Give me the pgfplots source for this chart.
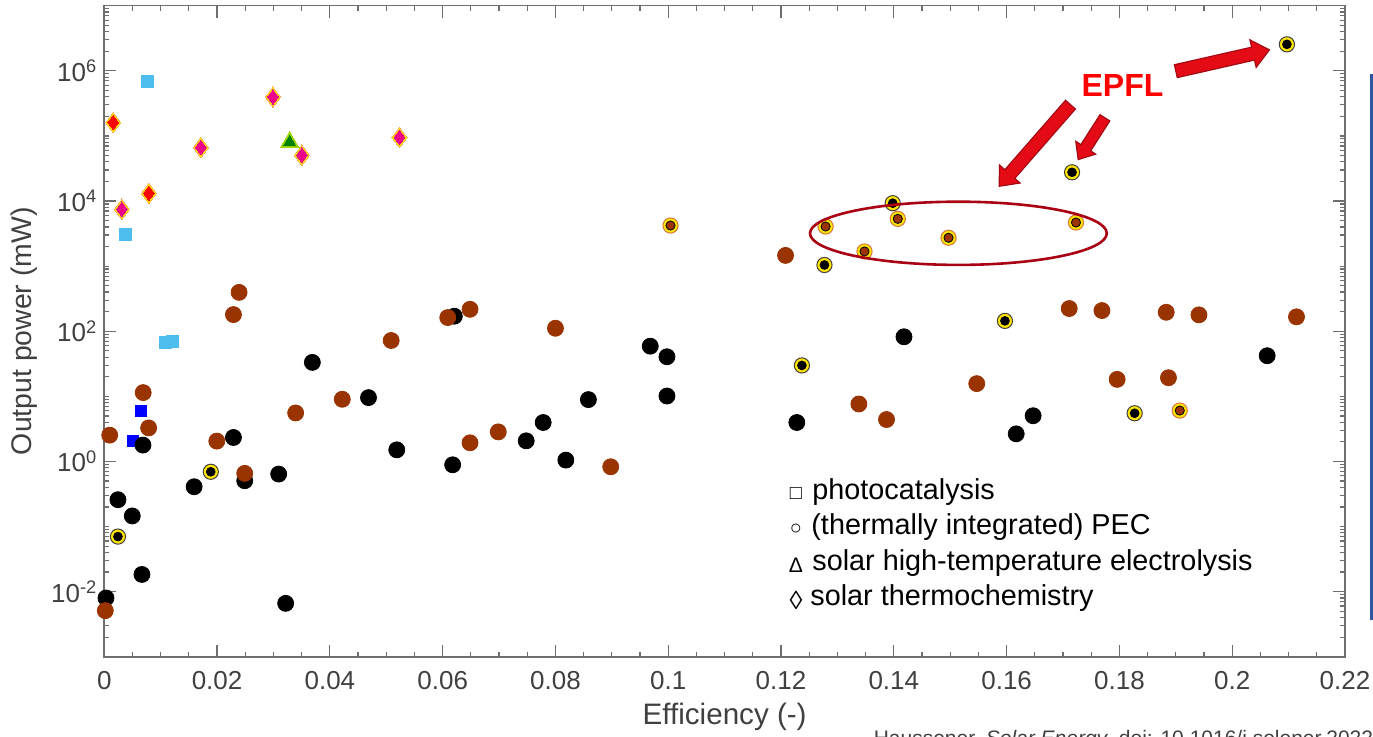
\documentclass[border=0pt]{standalone}
\usepackage{fontspec}
\setmainfont{Liberation Sans}
\usepackage{pgfplots}
\usepackage{pgfplotstable}
\pgfplotsset{compat=1.18}
\usetikzlibrary{shapes.arrows}

\definecolor{brownpt}{RGB}{153,51,0}
\definecolor{ltblue}{RGB}{77,190,238}
\definecolor{ringyel}{RGB}{255,230,0}
\definecolor{ringbrn}{RGB}{214,120,60}
\definecolor{dmdorange}{RGB}{250,165,90}
\definecolor{trigreen}{RGB}{0,128,0}
\definecolor{triyel}{RGB}{160,210,0}
\definecolor{axgray}{RGB}{110,110,110}
\definecolor{txtgray}{RGB}{64,64,64}
\definecolor{epflred}{RGB}{255,0,0}
\definecolor{arrred}{RGB}{228,10,22}
\definecolor{arredge}{RGB}{165,10,20}
\definecolor{ellred}{RGB}{170,0,20}
\definecolor{slideblue}{RGB}{47,85,160}

\pgfplotstableread{
x y
0.00242 0.070
0.01888 0.693
0.1237 29.8
0.1597 144
0.1827 5.49
0.1277 1040
0.1398 9250
0.1716 2.76e4
0.2097 2.55e6
}\blackring

\pgfplotstableread{
x y
0.1004 4200
0.1279 4055
0.1348 1680
0.1407 5320
0.1497 2723
0.1723 4670
0.1907 6.04
}\brownring

\pgfplotstableread{
x y
0.00159 1.61e5
0.00791 1.316e4
}\reddiamond

\pgfplotstableread{
x y
0.00313 7490
0.01712 6.67e4
0.02991 3.97e5
0.03504 5.08e4
0.05234 9.48e4
}\magdiamond

\pgfplotstableread{
x y
0.03287 8.0e4
}\triangledata

\tikzset{bigarrow/.style={single arrow, draw=arredge, fill=arrred, line width=0.6pt,
  inner xsep=0pt, single arrow head indent=0pt, single arrow tip angle=80}}

\begin{document}
\begin{tikzpicture}
\begin{axis}[
  scale only axis, width=620.35pt, height=325.5pt,
  at={(52.15pt,39.65pt)}, anchor=south west,
  xmin=0, xmax=0.22, ymin=1e-3, ymax=1e7, ymode=log,
  xtick={0,0.02,0.04,0.06,0.08,0.1,0.12,0.14,0.16,0.18,0.2,0.22},
  xticklabels={0,0.02,0.04,0.06,0.08,0.1,0.12,0.14,0.16,0.18,0.2,0.22},
  minor x tick num=3,
  ytick={1e-2,1,1e2,1e4,1e6},
  yticklabels={10\textsuperscript{-2},10\textsuperscript{0},10\textsuperscript{2},10\textsuperscript{4},10\textsuperscript{6}},
  minor ytick={2e-3,3e-3,4e-3,5e-3,6e-3,7e-3,8e-3,9e-3,
    2e-2,3e-2,4e-2,5e-2,6e-2,7e-2,8e-2,9e-2,
    0.1,0.2,0.3,0.4,0.5,0.6,0.7,0.8,0.9,
    2,3,4,5,6,7,8,9,
    10,20,30,40,50,60,70,80,90,
    200,300,400,500,600,700,800,900,
    1000,2000,3000,4000,5000,6000,7000,8000,9000,
    2e4,3e4,4e4,5e4,6e4,7e4,8e4,9e4,
    1e5,2e5,3e5,4e5,5e5,6e5,7e5,8e5,9e5,
    2e6,3e6,4e6,5e6,6e6,7e6,8e6,9e6},
  axis line style={axgray, line width=0.8pt},
  tick style={axgray, line width=0.6pt},
  major tick length=6pt, minor tick length=2.5pt,
  ticklabel style={font=\fontsize{13}{15}\selectfont, text=txtgray},
  xticklabel style={yshift=-3.6pt},
  xlabel={Efficiency (-)}, ylabel={Output power (mW)},
  label style={text=txtgray},
  xlabel style={font=\fontsize{14.8}{17}\selectfont, at={(axis description cs:0.5,-0.0926)}, anchor=center},
  ylabel style={font=\fontsize{14.2}{17}\selectfont, at={(axis description cs:-0.0647,0.5)}, anchor=center},
  clip=false,
]
% photocatalysis (light blue squares)
\addplot[only marks, mark=square*, mark size=3pt, color=ltblue, mark options={draw=ltblue, fill=ltblue, line width=0pt}] coordinates {
(0.00761,6.74e5) (0.00384,3027) (0.01092,66.4) (0.01204,68.8)};
% photocatalysis (blue squares)
\addplot[only marks, mark=square*, mark size=2.8pt, color=blue, mark options={draw=blue, fill=blue, line width=0pt}] coordinates {
(0.00644,5.96) (0.00508,2.07)};
% solar thermochemistry (diamonds)
\addplot[only marks, color=dmdorange, mark=diamond*, mark size=5.1pt, mark options={draw=dmdorange, fill=dmdorange, line width=0pt}] table {\reddiamond};
\addplot[only marks, color=ringyel, mark=diamond*, mark size=4.5pt, mark options={draw=ringyel, fill=ringyel, line width=0pt}] table {\reddiamond};
\addplot[only marks, color=red, mark=diamond*, mark size=3.6pt, mark options={draw=red, fill=red, line width=0pt}] table {\reddiamond};
\addplot[only marks, color=dmdorange, mark=diamond*, mark size=5.1pt, mark options={draw=dmdorange, fill=dmdorange, line width=0pt}] table {\magdiamond};
\addplot[only marks, color=ringyel, mark=diamond*, mark size=4.5pt, mark options={draw=ringyel, fill=ringyel, line width=0pt}] table {\magdiamond};
\addplot[only marks, color=magenta, mark=diamond*, mark size=3.6pt, mark options={draw=magenta, fill=magenta, line width=0pt}] table {\magdiamond};
% solar high-temperature electrolysis (triangle)
\addplot[only marks, color=triyel, mark=triangle*, mark size=5.4pt, mark options={draw=triyel, fill=triyel, line width=0pt}] table {\triangledata};
\addplot[only marks, color=trigreen, mark=triangle*, mark size=3.5pt, mark options={draw=trigreen, fill=trigreen, line width=0pt}] table {\triangledata};
% PEC black circles
\addplot[only marks, mark=*, mark size=4pt, color=black, mark options={draw=none}] coordinates {
(0.03689,33.2) (0.04685,9.55) (0.00685,1.78) (0.0229,2.33) (0.01593,0.408)
(0.0249,0.505) (0.03092,0.639) (0.05186,1.505) (0.06177,0.887) (0.00242,0.258)
(0.00496,0.1453) (0.00667,0.01834) (0.0003,0.00798) (0.03216,0.0066) (0.06207,170)
(0.09681,58.9) (0.09977,40.5) (0.09977,10.1) (0.08584,8.9) (0.07782,3.96)
(0.07481,2.07) (0.08184,1.047) (0.1228,3.96) (0.1418,82.1) (0.1647,5.03)
(0.1617,2.65) (0.2062,42.0)};
% PEC brown circles
\addplot[only marks, mark=*, mark size=4pt, color=brownpt, mark options={draw=none}] coordinates {
(0.00096,2.53) (0.0069,11.4) (0.00786,3.27) (0.01995,2.05) (0.0249,0.655)
(0.03393,5.55) (0.0422,9.0) (0.05087,72.0) (0.00018,0.0051) (0.0239,395)
(0.0229,180) (0.0609,162) (0.06485,217) (0.08,111) (0.06986,2.84)
(0.06485,1.93) (0.0898,0.827) (0.1208,1459) (0.1338,7.62) (0.1387,4.40)
(0.1547,15.65) (0.1711,223) (0.1769,207.5) (0.1883,195.4) (0.1941,178.3)
(0.2114,166.2) (0.1796,18.2) (0.1887,19.3)};
% ringed black circles
\addplot[only marks, mark=*, mark size=3.8pt, mark options={draw=black!75, line width=0.5pt, fill=ringyel}] table {\blackring};
\addplot[only marks, mark=*, mark size=2.2pt, mark options={draw=none, fill=black}] table {\blackring};
% ringed brown circles
\addplot[only marks, mark=*, mark size=3.8pt, mark options={draw=ringbrn, line width=0.5pt, fill=ringyel}] table {\brownring};
\addplot[only marks, mark=*, mark size=2.3pt, mark options={draw=none, fill=brownpt}] table {\brownring};
\end{axis}

% legend (text box)
\begin{scope}[every node/.style={inner sep=0pt}]
\node[font=\fontsize{10}{12}\selectfont] at (398pt,121pt) {□};
\node[font=\fontsize{10}{12}\selectfont] at (398pt,103.25pt) {○};
\node[font=\fontsize{10.5}{12}\selectfont] at (398pt,85.5pt) {Δ};
\node[font=\fontsize{13}{14}\selectfont] at (398pt,67.75pt) {◊};
\tikzset{legtxt/.style={anchor=west, font=\fontsize{14.4}{17}\selectfont, text height=0.72em, text depth=0.2em}}
\node[legtxt] at (406pt,121pt) {photocatalysis};
\node[legtxt] at (405.5pt,103.25pt) {(thermally integrated) PEC};
\node[legtxt] at (406pt,85.5pt) {solar high-temperature electrolysis};
\node[legtxt] at (405pt,67.75pt) {solar thermochemistry};
% citation (cut off at the bottom edge, as in the original slide)
\node[anchor=base west, font=\fontsize{10.5}{13}\selectfont, text=txtgray] at (436.7pt,-4.6pt) {Haussener, \textit{Solar Energy}, doi: 10.1016/j.solener.2022};
\end{scope}

% annotations
\draw[ellred, line width=1.3pt] (479.2pt,251.35pt) ellipse [x radius=74.2pt, y radius=15.8pt];
\node[font=\fontsize{16}{16}\selectfont\bfseries, text=epflred, inner sep=0pt] at (561.25pt,325.25pt) {EPFL};
\node[bigarrow, inner ysep=3pt, minimum height=48pt, single arrow head extend=3.75pt, rotate=12.8] at (609.4pt,337.3pt) {};
\node[bigarrow, inner ysep=3pt, minimum height=54.2pt, single arrow head extend=3.5pt, rotate=228.85] at (518.7pt,296.75pt) {};
\node[bigarrow, inner ysep=2.6pt, minimum height=24.8pt, single arrow head extend=3pt, rotate=237.4] at (546.7pt,300.1pt) {};
\draw[slideblue, line width=1.5pt] (685.75pt,331pt) -- (685.75pt,58pt);

\pgfresetboundingbox
\path (0,0) rectangle (686.5pt,368pt);
\end{tikzpicture}
\end{document}
